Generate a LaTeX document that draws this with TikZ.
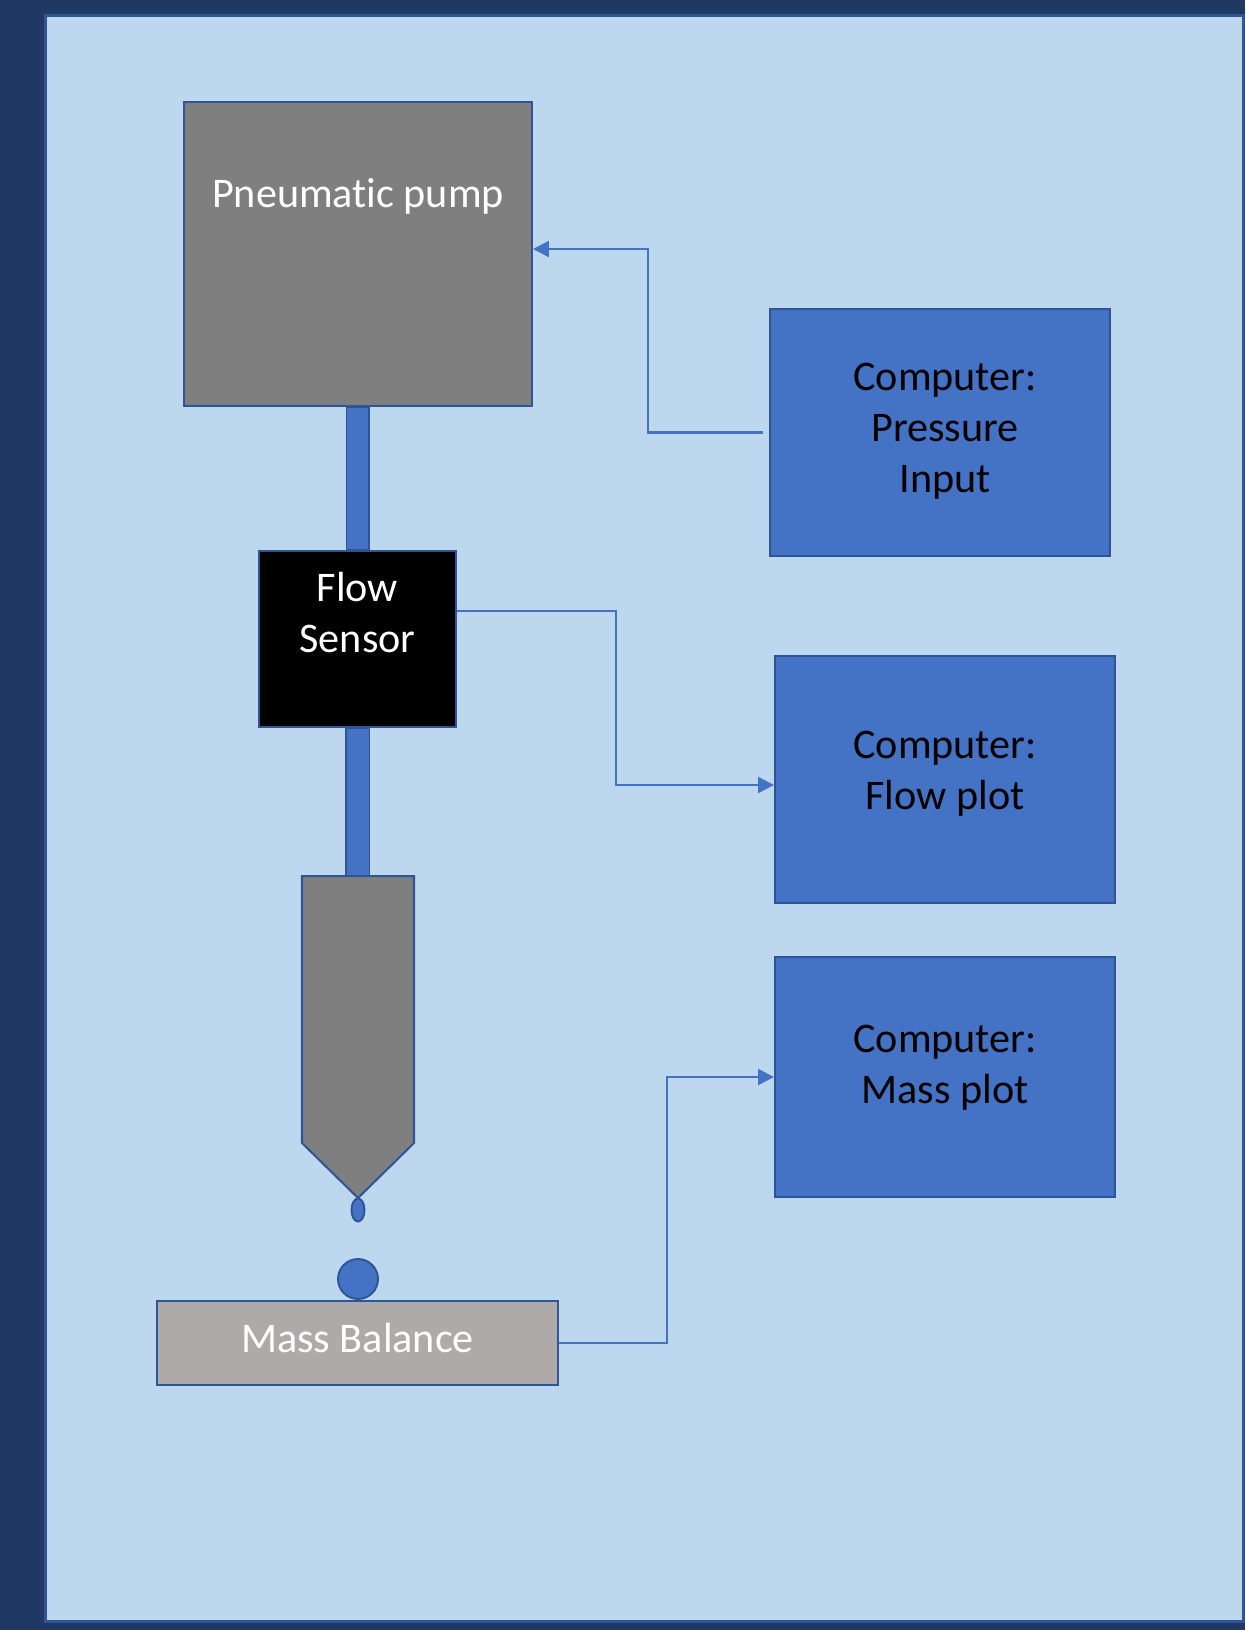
\documentclass[tikz,border=0pt]{standalone}
\usepackage{fontspec}
\setmainfont{Carlito}[Ligatures=NoCommon]
\usepackage{xcolor}
\usepackage{tikz}
\usetikzlibrary{arrows.meta,calc}
\definecolor{navybg}{HTML}{203864}
\definecolor{panelblue}{HTML}{BDD7EE}
\definecolor{boxline}{HTML}{2F5597}
\definecolor{accent}{HTML}{4472C4}
\definecolor{pumpgray}{HTML}{7F7F7F}
\definecolor{scalegray}{HTML}{AEAAAA}
\tikzset{my box/.style = {rectangle, draw=boxline, line width=1.15pt, inner sep=0pt},
  my link/.style = {draw=accent, line width=1.3pt, -{Triangle[length=9pt,width=9pt]}},
  my text/.style = {font=\fontsize{24}{29}\selectfont, align=center, anchor=base, inner sep=0pt}}

\begin{document}
\begin{tikzpicture}[x=0.02cm,y=-0.02cm]
  \useasboundingbox (0,0) rectangle (1245,1630);
  \fill[navybg] (0,0) rectangle (1245,1630);
  \draw[boxline, fill=panelblue, line width=0.06cm] (45,15) rectangle (1243,1621);

  \node[my box, fill=pumpgray, minimum width=6.96cm, minimum height=6.08cm] (P) at (358,254) {};
  \node[my box, fill=black, minimum width=3.94cm, minimum height=3.52cm] (S) at (357.5,639) {};
  \node[my box, fill=scalegray, minimum width=8.02cm, minimum height=1.68cm] (B) at (357.5,1343) {};
  \node[my box, fill=accent, minimum width=6.8cm, minimum height=4.94cm] (C1) at (940,432.5) {};
  \node[my box, fill=accent, minimum width=6.8cm, minimum height=4.94cm] (C2) at (945,779.5) {};
  \node[my box, fill=accent, minimum width=6.8cm, minimum height=4.8cm] (C3) at (945,1077) {};

  % tubing and nozzle
  \coordinate (N) at (358,876);
  \draw[boxline, fill=accent, line width=1.1pt] ($(P.south)+(-11.5,0)$) rectangle ($(S.north)+(11.5,0)$);
  \draw[boxline, fill=accent, line width=1.1pt] ($(S.south)+(-11.5,0)$) rectangle ($(N)+(11.5,0)$);
  \draw[boxline, fill=pumpgray, line width=1.15pt] (302,876) -- (414,876) -- (414,1143) -- (358,1198) -- (302,1143) -- cycle;
  \draw[boxline, fill=accent, line width=1.1pt] (358,1210) ellipse [x radius=6.5, y radius=11.5];
  \draw[boxline, fill=accent, line width=1.1pt] (358,1279) circle [radius=20];

  \node[my text, white] (Ptxt) at (358,207) {Pneumatic pump};
  \node[my text, white] (Stxt) at (357.5,652) {Flow\\Sensor};
  \node[my text, white] (Btxt) at (357.5,1352) {Mass Balance};
  \node[my text] (C1txt) at (945,492) {Computer:\\Pressure\\Input};
  \node[my text] (C2txt) at (945,809) {Computer:\\Flow plot};
  \node[my text] (C3txt) at (945,1103) {Computer:\\Mass plot};

  \coordinate (J1) at (648,249);
  \coordinate (J2) at (616,785);
  \coordinate (J3) at (667,1077);
  \draw[my link] ($(C1.west)+(-6,0)$) -| (J1) -- (J1 -| P.east);
  \draw[my link] ($(S.east)+(0,-28)$) -| (J2) -- (J2 -| C2.west);
  \draw[my link] (B.east) -| (J3) -- (C3.west);
\end{tikzpicture}
\end{document}
